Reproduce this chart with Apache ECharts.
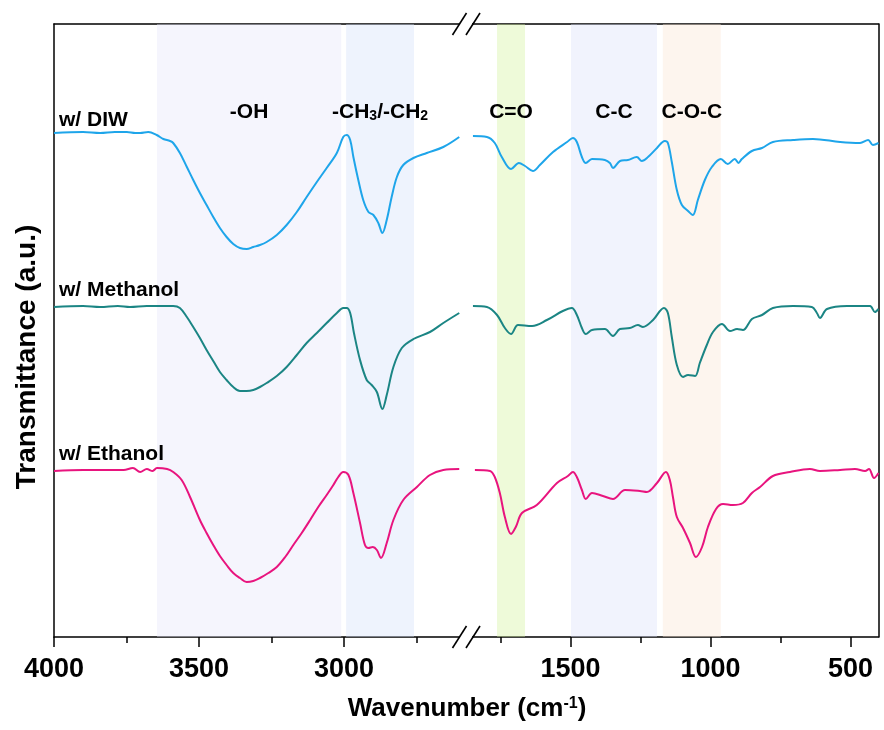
<!DOCTYPE html>
<html><head><meta charset="utf-8">
<script src="https://cdn.jsdelivr.net/npm/echarts@6/dist/echarts.min.js"></script>
<style>html,body{margin:0;padding:0;background:#fff}#c{width:884px;height:730px}</style>
</head><body><div id="c"></div>
<script>
// ---- data (x: wavenumber cm-1, y: transmittance, arbitrary units) ----
const seriesNames = ['w/ DIW', 'w/ Methanol', 'w/ Ethanol'];
const seriesColors = ['#1ea5ea', '#1b8584', '#e8147e'];

const diwHigh = [[4000,499],[3900,500],[3841,499],[3790,500],[3749,500],[3720,499],[3703,499],[3675,500],[3646,497],[3623,493],[3600,491],[3589,489],[3566,479],[3542,465],[3520,452],[3497,439],[3474,427],[3451,415],[3428,404],[3405,395],[3382,388],[3359,384],[3336,383],[3313,385],[3290,387],[3267,390],[3232,397],[3198,407],[3163,420],[3129,435],[3094,450],[3060,464],[3025,479],[3003,495],[2991,497],[2979,492],[2968,475],[2951,452],[2934,432],[2916,420],[2899,417],[2882,409],[2868,399],[2853,412],[2836,435],[2818,455],[2796,467],[2761,474],[2715,479],[2658,485],[2603,495]];
const diwLow = [[1848,496],[1798,495],[1770,489],[1745,475],[1712,463],[1684,469],[1662,466],[1634,461],[1609,467],[1562,480],[1512,490],[1491,494],[1477,490],[1459,475],[1445,469],[1423,473],[1377,472],[1359,469],[1348,464],[1323,471],[1295,472],[1263,475],[1245,471],[1223,475],[1191,484],[1163,491],[1152,489],[1138,470],[1120,442],[1102,427],[1080,421],[1063,417],[1045,432],[1020,452],[995,465],[963,473],[938,468],[913,473],[900,469],[888,473],[852,481],[816,484],[777,490],[705,492],[634,493],[537,490],[466,489],[437,492],[420,487],[400,489]];

const metHigh = [[4000,325],[3900,326],[3841,325],[3780,326],[3738,325],[3680,326],[3620,326],[3589,326],[3566,324],[3542,315],[3520,305],[3497,294],[3474,282],[3451,271],[3428,260],[3405,252],[3382,245],[3359,241],[3336,241],[3313,242],[3290,245],[3267,249],[3232,256],[3198,265],[3163,277],[3129,289],[3094,299],[3060,309],[3025,319],[3003,324],[2991,324],[2979,319],[2966,299],[2945,272],[2922,252],[2905,247],[2887,240],[2868,223],[2853,237],[2830,265],[2801,284],[2761,293],[2704,300],[2658,309],[2603,319]];
const metLow = [[1848,326],[1798,325],[1762,317],[1734,304],[1712,298],[1687,307],[1637,306],[1584,312],[1527,321],[1495,324],[1477,317],[1459,304],[1445,298],[1423,302],[1377,303],[1348,296],[1323,303],[1288,304],[1259,307],[1241,305],[1205,312],[1166,324],[1152,319],[1138,295],[1120,267],[1098,255],[1080,257],[1055,256],[1038,269],[1013,287],[991,300],[959,308],[930,301],[905,303],[884,302],[852,313],[816,317],[777,324],[705,326],[638,325],[620,319],[609,314],[584,323],[512,326],[455,326],[430,326],[413,320],[400,323]];

const ethHigh = [[4000,161],[3900,162],[3841,162],[3760,162],[3728,164],[3703,160],[3680,163],[3660,161],[3645,164],[3610,163],[3589,160],[3560,152],[3531,135],[3497,112],[3474,99],[3451,87],[3428,76],[3405,67],[3382,59],[3359,54],[3336,50],[3313,51],[3290,54],[3261,59],[3232,65],[3203,75],[3175,87],[3146,99],[3117,112],[3089,125],[3060,137],[3037,147],[3020,155],[3003,160],[2985,157],[2968,139],[2945,109],[2928,87],[2916,84],[2901,85],[2887,82],[2873,74],[2853,89],[2830,112],[2796,132],[2749,145],[2704,157],[2658,162],[2603,163]];
const ethLow = [[1841,162],[1787,161],[1770,155],[1752,139],[1734,115],[1712,98],[1695,105],[1673,119],[1620,127],[1548,149],[1509,156],[1491,160],[1477,155],[1459,142],[1445,133],[1423,139],[1384,136],[1348,133],[1305,142],[1252,141],[1227,140],[1191,149],[1159,160],[1145,152],[1134,135],[1120,115],[1098,104],[1073,89],[1052,75],[1030,85],[1009,105],[980,123],[955,128],[920,127],[884,129],[852,139],[823,145],[777,156],[716,160],[645,163],[609,161],[537,162],[484,163],[448,161],[434,163],[416,154],[400,159]];

const majorTicksHigh = [4000, 3500, 3000];
const minorTicksHigh = [3750, 3250, 2750];
const majorTicksLow = [1500, 1000, 500];
const minorTicksLow = [1750, 1250, 750];

const bandNames = ['{m|-OH}', '{m|-CH}{s|3}{m|/-CH}{s|2}', '{m|C=O}', '{m|C-C}', '{m|C-O-C}'];
const bandRanges = [[3645, 3010], [2993, 2759], [1762, 1662], [1498, 1191], [1170, 963]];
const bandPanel = [0, 0, 1, 1, 1];
const bandColors = ['rgba(230,230,250,0.4)', 'rgba(212,225,250,0.4)', 'rgba(212,242,160,0.4)', 'rgba(220,225,250,0.4)', 'rgba(250,230,212,0.4)'];

// ---- chart ----
const FONT = '"Liberation Sans", Arial, sans-serif';
const chart = echarts.init(document.getElementById('c'), null, {renderer: 'canvas'});
const grids = [
  {left: 54, top: 24, width: 412.5, height: 613},
  {left: 466.5, top: 24, width: 412, height: 613}
];
function bottomMajor(gi, min, max, vals) {
  return {gridIndex: gi, type: 'value', inverse: true, min: min, max: max, position: 'bottom',
    axisLine: {show: true, onZero: false, lineStyle: {color: '#000', width: 1.5}},
    axisTick: {show: true, customValues: vals, length: 10, lineStyle: {color: '#000', width: 1.5}},
    axisLabel: {show: true, customValues: vals, margin: 19, color: '#000', fontSize: 27, fontWeight: 'bold', fontFamily: FONT,
      formatter: v => String(v)},
    splitLine: {show: false}};
}
function bottomMinor(gi, min, max, vals) {
  return {gridIndex: gi, type: 'value', inverse: true, min: min, max: max, position: 'bottom',
    axisLine: {show: false, onZero: false},
    axisTick: {show: true, customValues: vals, length: 6, lineStyle: {color: '#000', width: 1.5}},
    axisLabel: {show: false}, splitLine: {show: false}};
}
function topAxis(gi, min, max) {
  return {gridIndex: gi, type: 'value', inverse: true, min: min, max: max, position: 'top',
    axisLine: {show: true, onZero: false, lineStyle: {color: '#000', width: 1.5}},
    axisTick: {show: false}, axisLabel: {show: false}, splitLine: {show: false}};
}
const xAxes = [
  bottomMajor(0, 2578, 4000, majorTicksHigh), bottomMinor(0, 2578, 4000, minorTicksHigh), topAxis(0, 2578, 4000),
  bottomMajor(1, 400, 1871, majorTicksLow), bottomMinor(1, 400, 1871, minorTicksLow), topAxis(1, 400, 1871)
];
const yAxes = [0, 1].map(gi => ({gridIndex: gi, type: 'value', min: -5, max: 608, position: gi ? 'right' : 'left',
  axisLine: {show: true, onZero: false, lineStyle: {color: '#000', width: 1.5}},
  axisTick: {show: false}, axisLabel: {show: false}, splitLine: {show: false}}));

const dataSets = [[diwHigh, diwLow], [metHigh, metLow], [ethHigh, ethLow]];
const series = [];
dataSets.forEach((pair, i) => {
  pair.forEach((d, p) => {
    series.push({type: 'line', name: seriesNames[i], xAxisIndex: p * 3, yAxisIndex: p, data: d,
      showSymbol: false, smooth: 0.35, z: 2,
      lineStyle: {color: seriesColors[i], width: 2}});
  });
});
[0, 1].forEach(p => {
  const areas = [];
  bandRanges.forEach((r, k) => {
    if (bandPanel[k] !== p) return;
    areas.push([{xAxis: r[0], itemStyle: {color: bandColors[k]}}, {xAxis: r[1]}]);
  });
  series.push({type: 'line', xAxisIndex: p * 3, yAxisIndex: p, data: [], z: 5, silent: true,
    markArea: {silent: true, data: areas, label: {show: false}}});
});

chart.setOption({
  animation: false,
  backgroundColor: '#fff',
  grid: grids,
  xAxis: xAxes,
  yAxis: yAxes,
  series: series
});

// ---- text & break marks ----
const graphics = [];
const bandY = 112.5;
bandNames.forEach((name, k) => {
  const mid = (bandRanges[k][0] + bandRanges[k][1]) / 2;
  const px = chart.convertToPixel({xAxisIndex: bandPanel[k] * 3}, mid);
  graphics.push({type: 'text', x: px, y: bandY, z: 100, style: {
    text: name, fill: '#000', align: 'center', verticalAlign: 'middle',
    rich: {m: {fontSize: 21, fontWeight: 'bold', fontFamily: FONT, lineHeight: 21, padding: [0, 0, 5, 0], verticalAlign: 'top'},
           s: {fontSize: 14, fontWeight: 'bold', fontFamily: FONT, lineHeight: 14, verticalAlign: 'bottom'}}
  }});
});
const labelYs = [120, 290, 454];
seriesNames.forEach((n, i) => {
  graphics.push({type: 'text', x: 59, y: labelYs[i], z: 100, style: {
    text: n, fill: '#000', font: 'bold 21px ' + FONT, align: 'left', verticalAlign: 'middle'}});
});
graphics.push({type: 'text', x: 467, y: 709, z: 100, style: {
  text: '{m|Wavenumber (cm}{s|-1}{m|)}', fill: '#000', align: 'center', verticalAlign: 'middle',
  rich: {m: {fontSize: 26, fontWeight: 'bold', fontFamily: FONT, lineHeight: 26, padding: [2, 0, 0, 0], verticalAlign: 'bottom'},
         s: {fontSize: 16, fontWeight: 'bold', fontFamily: FONT, lineHeight: 16, verticalAlign: 'top'}}
}});
graphics.push({type: 'text', x: 27, y: 357, rotation: Math.PI / 2, z: 100, style: {
  text: 'Transmittance (a.u.)', fill: '#000', font: 'bold 28px ' + FONT, align: 'center', verticalAlign: 'middle'}});
// axis break marks
[24, 637].forEach(yy => {
  graphics.push({type: 'rect', z: 100, shape: {x: 460, y: yy - 3, width: 12, height: 6}, style: {fill: '#fff'}});
  graphics.push({type: 'line', z: 101, shape: {x1: 452.5, y1: yy + 11, x2: 466.5, y2: yy - 11}, style: {stroke: '#000', lineWidth: 1.6}});
  graphics.push({type: 'line', z: 101, shape: {x1: 466, y1: yy + 11, x2: 480, y2: yy - 11}, style: {stroke: '#000', lineWidth: 1.6}});
});
chart.setOption({graphic: graphics});
</script>
</body></html>
